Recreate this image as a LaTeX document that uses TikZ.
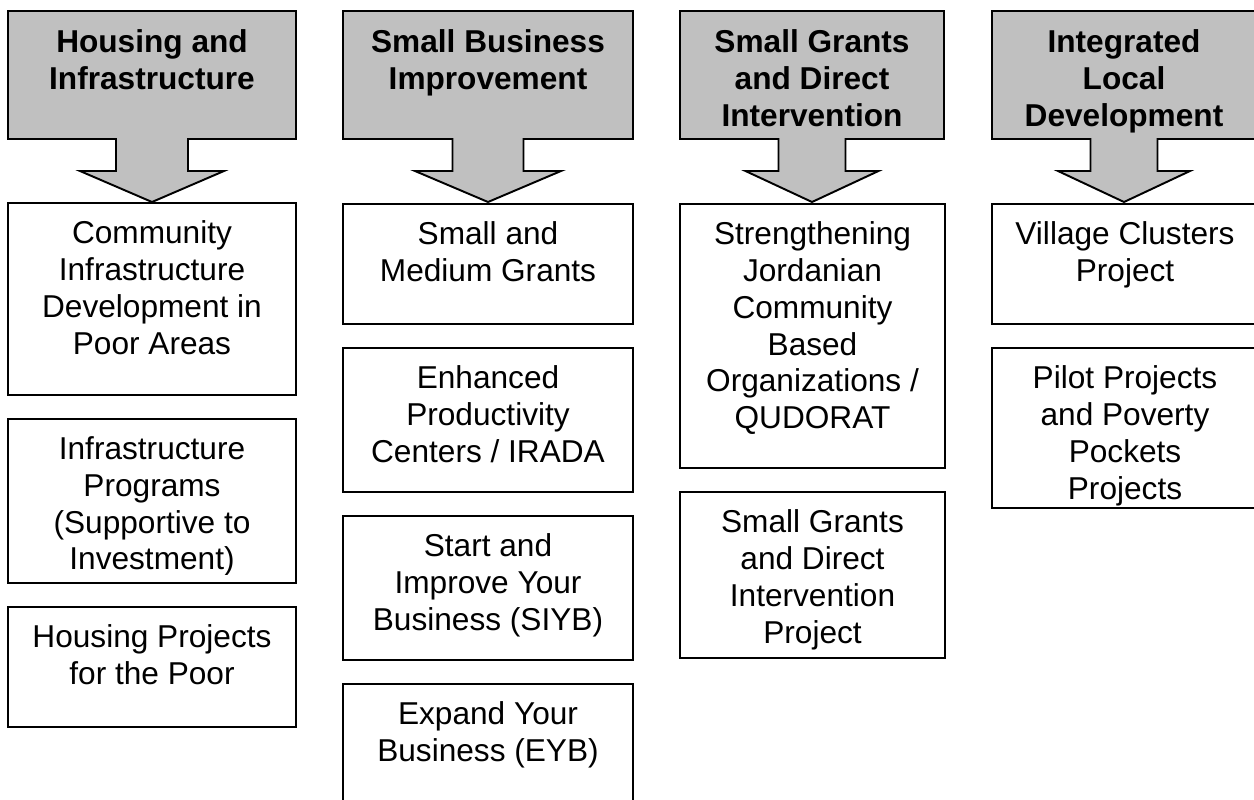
\documentclass[tikz,border=0pt]{standalone}
\usepackage{fontspec}
\setmainfont{Liberation Sans}
\usetikzlibrary{calc,fit}
\definecolor{HeadGray}{HTML}{C0C0C0}

\tikzset{
  headshape/.style={fill=HeadGray, draw=black, line width=1.1pt, line join=miter},
  headtext/.style={anchor=north, align=center, inner sep=0pt,
    font=\fontsize{18}{21}\selectfont\bfseries},
  progbox/.style={draw=black, line width=1.1pt, fill=white, inner sep=0pt},
  progtext/.style={anchor=north, align=center, inner sep=0pt,
    font=\fontsize{18}{21}\selectfont},
}

% gray title block with its down arrow: left, right, centre, shaft half width, head half width
\newcommand{\grouphead}[5]{%
  \filldraw[headshape] (#1,11) -- (#2,11) -- (#2,139) -- ({#3+#4},139) -- ({#3+#4},171)
    -- ({#3+#5},171) -- (#3,202) -- ({#3-#5},171) -- ({#3-#4},171) -- ({#3-#4},139)
    -- (#1,139) -- cycle;}

\begin{document}
\begin{tikzpicture}[x=0.02cm,y=-0.02cm]
  \useasboundingbox (0,0) rectangle (1254,799);
  \clip (0,0) rectangle (1254,799);

  % column titles
  \grouphead{8}{296}{152}{36}{72}
  \node[headtext] (housH) at (152,29) {Housing and\\Infrastructure};
  \grouphead{343}{633}{488}{35.5}{73}
  \node[headtext] (bizH) at (488,29) {Small Business\\Improvement};
  \grouphead{680}{944}{812}{33.5}{66.5}
  \node[headtext] (grantH) at (812,29) {Small Grants\\and Direct\\Intervention};
  \grouphead{992}{1258}{1124}{33.5}{66}
  \node[headtext] (localH) at (1124,29) {Integrated\\Local\\Development};

  % housing and infrastructure
  \node[progbox, fit={(8,203) (296,395)}] (hous1) {};
  \node[progtext] (hous1t) at ($(hous1.north)+(0,18)$)
    {Community\\Infrastructure\\Development in\\Poor Areas};
  \node[progbox, fit={(8,419) (296,583)}] (hous2) {};
  \begin{scope}
    \clip (8,419) rectangle (296,574);
    \node[progtext] (hous2t) at ($(hous2.north)+(0,18)$)
      {Infrastructure\\Programs\\(Supportive to\\Investment)};
  \end{scope}
  \node[progbox, fit={(8,607) (296,727)}] (hous3) {};
  \node[progtext] (hous3t) at ($(hous3.north)+(0,18)$) {Housing Projects\\for the Poor};

  % small business improvement
  \node[progbox, fit={(343,204) (633,324)}] (biz1) {};
  \node[progtext] (biz1t) at ($(biz1.north)+(0,18)$) {Small and\\Medium Grants};
  \node[progbox, fit={(343,348) (633,492)}] (biz2) {};
  \node[progtext] (biz2t) at ($(biz2.north)+(0,18)$)
    {Enhanced\\Productivity\\Centers / IRADA};
  \node[progbox, fit={(343,516) (633,660)}] (biz3) {};
  \node[progtext] (biz3t) at ($(biz3.north)+(0,18)$)
    {Start and\\Improve Your\\Business (SIYB)};
  \node[progbox, fit={(343,684) (633,840)}] (biz4) {};
  \node[progtext] (biz4t) at ($(biz4.north)+(0,18)$) {Expand Your\\Business (EYB)};

  % small grants and direct intervention
  \node[progbox, fit={(680,204) (945,468)}] (grant1) {};
  \node[progtext] (grant1t) at ($(grant1.north)+(0,18)$)
    {Strengthening\\Jordanian\\Community\\Based\\Organizations /\\QUDORAT};
  \node[progbox, fit={(680,492) (945,658)}] (grant2) {};
  \node[progtext] (grant2t) at ($(grant2.north)+(0,18)$)
    {Small Grants\\and Direct\\Intervention\\Project};

  % integrated local development
  \node[progbox, fit={(992,204) (1258,324)}] (local1) {};
  \node[progtext] (local1t) at ($(local1.north)+(0,18)$) {Village Clusters\\Project};
  \node[progbox, fit={(992,348) (1258,508)}] (local2) {};
  \node[progtext] (local2t) at ($(local2.north)+(0,18)$)
    {Pilot Projects\\and Poverty\\Pockets\\Projects};
\end{tikzpicture}
\end{document}
